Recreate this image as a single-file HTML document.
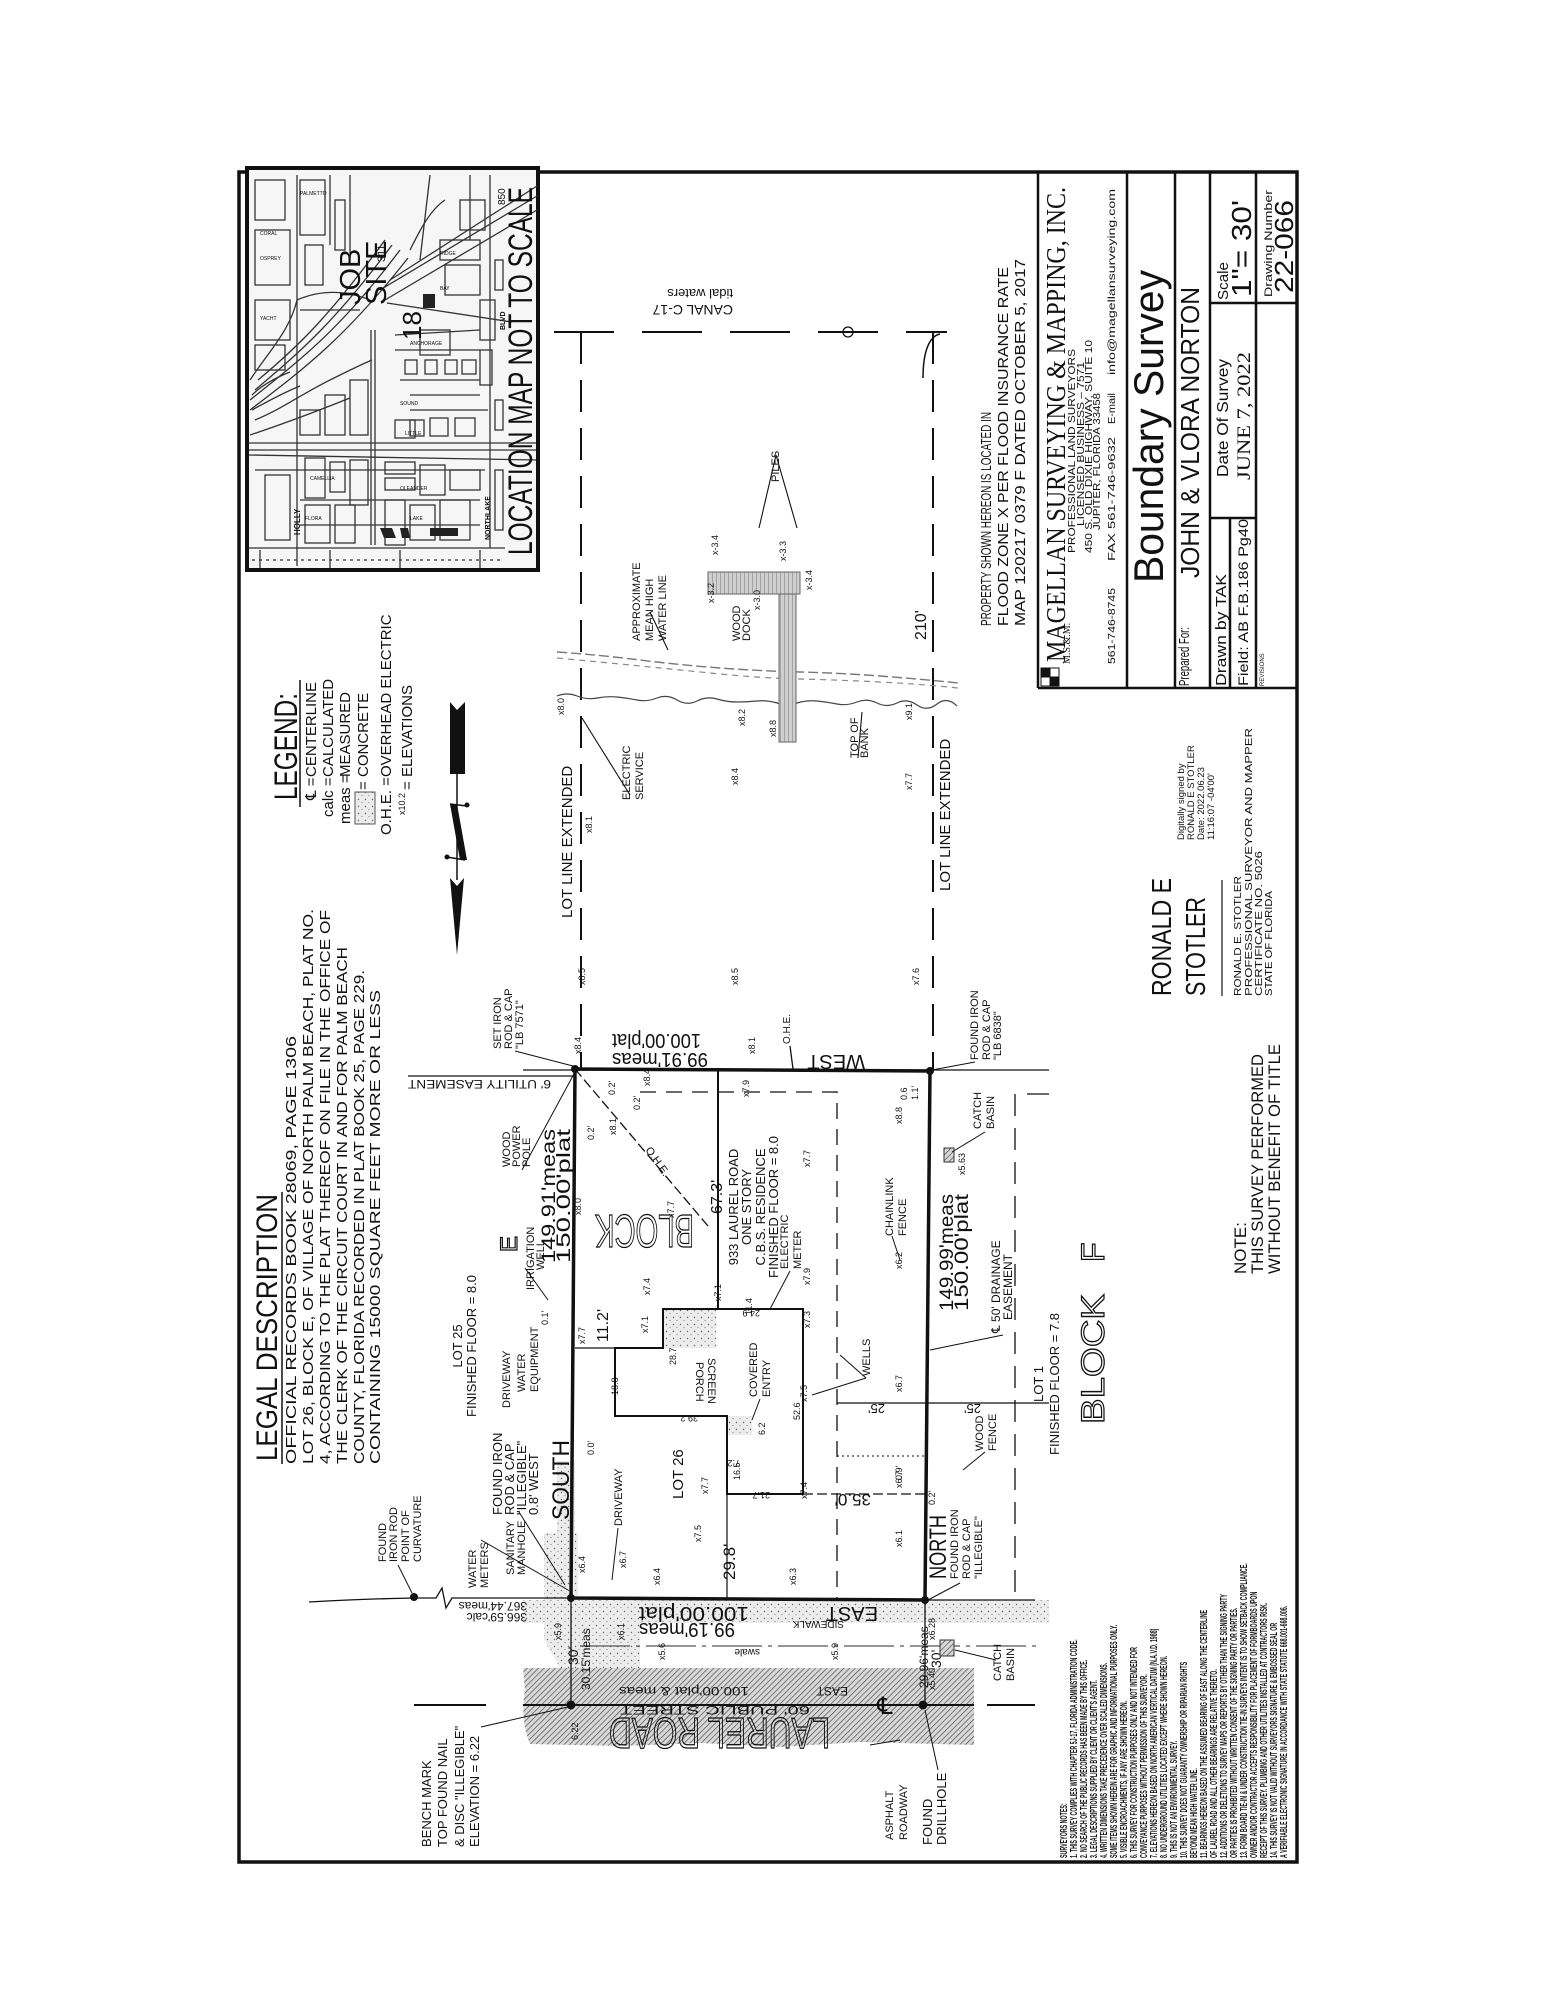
<!DOCTYPE html>
<html><head><meta charset="utf-8"><style>
html,body{margin:0;padding:0;background:#fff;}
svg{display:block;}
text{font-family:"Liberation Sans",sans-serif;fill:#111;}
.s{font-family:"Liberation Serif",serif;}
</style></head><body>
<svg width="1545" height="2000" viewBox="0 0 1545 2000" xmlns="http://www.w3.org/2000/svg">
<defs>
<pattern id="dots" width="7" height="7" patternUnits="userSpaceOnUse"><rect width="7" height="7" fill="#ececec"/><circle cx="1.5" cy="1.5" r="0.7" fill="#666"/><circle cx="5" cy="4.5" r="0.6" fill="#888"/></pattern>
<pattern id="hatch" width="4" height="4" patternUnits="userSpaceOnUse" patternTransform="rotate(45)"><rect width="4" height="4" fill="#d8d8d8"/><line x1="0" y1="0" x2="0" y2="4" stroke="#444" stroke-width="1.3"/></pattern>
<pattern id="dock" width="4" height="4" patternUnits="userSpaceOnUse"><rect width="4" height="4" fill="#cfcfcf"/><line x1="0" y1="0" x2="0" y2="4" stroke="#777" stroke-width="1"/></pattern>
</defs>

<!-- main border -->
<rect x="239" y="172" width="1058" height="1690" fill="none" stroke="#111" stroke-width="3.5"/>

<!-- LOCATION MAP -->
<g stroke="#333" fill="none" stroke-width="1.3">
<rect x="247" y="168" width="291" height="402" stroke="#111" stroke-width="4" fill="#f6f6f6"/>
<line x1="249" y1="443" x2="536" y2="443"/><line x1="249" y1="450" x2="536" y2="450"/><line x1="249" y1="455" x2="536" y2="460"/>
<line x1="297" y1="175" x2="297" y2="566"/><line x1="371" y1="330" x2="371" y2="545"/><line x1="375" y1="330" x2="375" y2="545"/>
<path d="M250 400 C300 360 340 330 400 250"/><path d="M250 410 C305 368 345 338 408 258"/>
<path d="M255 390 C300 352 335 322 392 245"/><path d="M258 380 C300 345 330 315 385 240"/>
<path d="M380 290 L537 196"/><path d="M385 300 L537 210"/><path d="M387 303 L512 322"/><path d="M390 280 L537 186"/>
<path d="M250 380 C270 350 290 330 297 300 C320 290 345 290 370 300"/>
<path d="M255 420 C280 410 300 395 330 380 C350 370 360 365 372 360"/>
<path d="M250 435 C280 425 320 410 350 398"/>
<path d="M252 395 C262 385 275 378 290 372"/><path d="M252 410 C270 400 285 392 300 386"/>
<path d="M410 250 C420 230 430 210 445 200"/>
<line x1="249" y1="548" x2="505" y2="548"/><line x1="490" y1="175" x2="490" y2="548"/>
<line x1="300" y1="310" x2="360" y2="310"/><line x1="330" y1="175" x2="330" y2="245"/><line x1="350" y1="175" x2="350" y2="260"/>
<line x1="430" y1="175" x2="420" y2="260"/><line x1="470" y1="175" x2="470" y2="240"/>
<line x1="400" y1="380" x2="480" y2="380"/><line x1="410" y1="395" x2="480" y2="395"/><line x1="410" y1="410" x2="488" y2="410"/>
<line x1="395" y1="335" x2="480" y2="330"/><line x1="395" y1="350" x2="480" y2="350"/>
<line x1="255" y1="470" x2="485" y2="470"/><line x1="300" y1="500" x2="480" y2="500"/><line x1="300" y1="525" x2="480" y2="525"/>
<rect x="305" y="458" width="20" height="40"/><rect x="330" y="462" width="15" height="30"/><rect x="350" y="460" width="18" height="45"/>
<rect x="385" y="462" width="30" height="12"/><rect x="385" y="478" width="30" height="12"/><rect x="420" y="465" width="25" height="30"/>
<rect x="450" y="470" width="30" height="20"/><rect x="305" y="505" width="25" height="38"/><rect x="335" y="505" width="20" height="38"/>
<rect x="385" y="500" width="20" height="45"/><rect x="410" y="505" width="25" height="35"/><rect x="440" y="500" width="30" height="40"/>
<rect x="255" y="180" width="30" height="40"/><rect x="300" y="180" width="25" height="55"/><rect x="335" y="200" width="10" height="50"/>
<rect x="440" y="240" width="40" height="20"/><rect x="445" y="265" width="35" height="30"/><rect x="420" y="330" width="30" height="25"/>
<rect x="300" y="410" width="20" height="25"/><rect x="325" y="395" width="20" height="40"/><rect x="350" y="380" width="18" height="55"/>
<rect x="255" y="300" width="35" height="40"/><rect x="255" y="345" width="30" height="25"/><rect x="395" y="420" width="20" height="18"/>
<rect x="480" y="300" width="15" height="40"/><rect x="480" y="350" width="12" height="35"/><rect x="460" y="200" width="25" height="30"/>
<rect x="255" y="230" width="35" height="55"/><rect x="305" y="245" width="18" height="40"/><rect x="265" y="475" width="25" height="65"/>
<rect x="405" y="360" width="12" height="14"/><rect x="425" y="360" width="12" height="14"/><rect x="445" y="360" width="12" height="14"/><rect x="462" y="360" width="14" height="14"/>
<rect x="410" y="420" width="14" height="16"/><rect x="430" y="418" width="18" height="18"/><rect x="455" y="418" width="20" height="18"/>
<rect x="495" y="260" width="8" height="30"/><rect x="495" y="400" width="8" height="30"/><rect x="495" y="470" width="8" height="60"/>
<line x1="260" y1="550" x2="260" y2="568"/><line x1="330" y1="550" x2="330" y2="568"/><line x1="400" y1="550" x2="400" y2="568"/><line x1="480" y1="550" x2="480" y2="568"/>
<line x1="252" y1="560" x2="500" y2="560" stroke-dasharray="3,4"/>
</g>
<g font-size="5" fill="#555">
<text x="300" y="195">PALMETTO</text><text x="260" y="235">CORAL</text><text x="310" y="480">CAMELLIA</text><text x="400" y="490">OLEANDER</text><text x="410" y="345">ANCHORAGE</text><text x="260" y="320">YACHT</text><text x="440" y="255">RIDGE</text><text x="400" y="405">SOUND</text>
<text x="305" y="520">FLORA</text><text x="410" y="520">LAKE</text><text x="260" y="260">OSPREY</text><text x="440" y="290">BAY</text><text x="405" y="435">LITTLE</text>
</g>
<rect x="423" y="294" width="12" height="14" fill="#222"/>
<text transform="translate(300,535) rotate(-90)" font-size="8" font-weight="bold">HOLLY</text>
<text transform="translate(490,540) rotate(-90)" font-size="7" font-weight="bold">NORTHLAKE</text>
<text transform="translate(505,330) rotate(-90)" font-size="7" font-weight="bold">BLVD</text>
<text transform="translate(385,262) rotate(-90)" font-size="11">311</text>
<text transform="translate(505,205) rotate(-90)" font-size="10">850</text>
<text transform="translate(360,305) rotate(-90)" font-size="29">JOB</text>
<text transform="translate(386,305) rotate(-90)" font-size="29">SITE</text>
<text transform="translate(421,340) rotate(-90)" font-size="26">18</text>
<text transform="translate(532,555) rotate(-90)" font-size="34" textLength="368" lengthAdjust="spacingAndGlyphs">LOCATION MAP NOT TO SCALE</text>
<g fill="#222"><polygon points="380,528 392,528 396,538 384,538"/><polygon points="400,528 408,528 410,538 402,538"/><polygon points="430,528 458,528 458,536 430,536"/></g>

<!-- TITLE BLOCK -->
<g stroke="#111" stroke-width="2.5" fill="none">
<line x1="1038" y1="172" x2="1038" y2="688"/><line x1="1038" y1="688" x2="1297" y2="688"/>
<line x1="1127" y1="172" x2="1127" y2="688"/><line x1="1175" y1="172" x2="1175" y2="688"/>
<line x1="1210" y1="172" x2="1210" y2="688"/><line x1="1256" y1="172" x2="1256" y2="688"/>
<line x1="1210" y1="303" x2="1297" y2="303"/><line x1="1210" y1="518" x2="1256" y2="518"/>
<line x1="1230" y1="518" x2="1230" y2="688"/>
</g>
<text class="s" transform="translate(1065,662) rotate(-90)" font-size="27" textLength="475" lengthAdjust="spacingAndGlyphs">MAGELLAN  SURVEYING  &amp;  MAPPING,  INC.</text>
<text transform="translate(1075,553) rotate(-90)" font-size="10" textLength="204" lengthAdjust="spacingAndGlyphs">PROFESSIONAL LAND SURVEYORS</text>
<text transform="translate(1084,526) rotate(-90)" font-size="10" textLength="164" lengthAdjust="spacingAndGlyphs">LICENSED BUSINESS – 7571</text>
<text transform="translate(1092,553) rotate(-90)" font-size="10" textLength="213" lengthAdjust="spacingAndGlyphs">450 S. OLD DIXIE HIGHWAY, SUITE 10</text>
<text transform="translate(1100,530) rotate(-90)" font-size="10" textLength="137" lengthAdjust="spacingAndGlyphs">JUPITER, FLORIDA 33458</text>
<text transform="translate(1115,664) rotate(-90)" font-size="10" textLength="76" lengthAdjust="spacingAndGlyphs">561-746-8745</text>
<text transform="translate(1115,561) rotate(-90)" font-size="10" textLength="124" lengthAdjust="spacingAndGlyphs">FAX 561-746-9632</text>
<text transform="translate(1115,424) rotate(-90)" font-size="10" textLength="31" lengthAdjust="spacingAndGlyphs">E-mail</text>
<text transform="translate(1115,375) rotate(-90)" font-size="10" textLength="186" lengthAdjust="spacingAndGlyphs">info@magellansurveying.com</text>
<g stroke="#111" stroke-width="1"><rect x="1041" y="668" width="9" height="9" fill="#111"/><rect x="1050" y="668" width="9" height="9" fill="#fff"/><rect x="1041" y="677" width="9" height="9" fill="#fff"/><rect x="1050" y="677" width="9" height="9" fill="#111"/></g>
<text class="s" transform="translate(1070,664) rotate(-90)" font-size="10">M.S.&amp;.M.</text>
<text transform="translate(1163,583) rotate(-90)" font-size="42" textLength="313" lengthAdjust="spacingAndGlyphs">Boundary  Survey</text>
<text transform="translate(1189,686) rotate(-90)" font-size="15" textLength="59" lengthAdjust="spacingAndGlyphs">Prepared For:</text>
<text transform="translate(1199,578) rotate(-90)" font-size="26" textLength="291" lengthAdjust="spacingAndGlyphs">JOHN &amp; VLORA NORTON</text>
<text transform="translate(1226,686) rotate(-90)" font-size="15" textLength="112" lengthAdjust="spacingAndGlyphs">Drawn by TAK</text>
<text transform="translate(1248,686) rotate(-90)" font-size="14" textLength="167" lengthAdjust="spacingAndGlyphs">Field: AB F.B.186 Pg40</text>
<text transform="translate(1264,686) rotate(-90)" font-size="6">REVISIONS</text>
<text transform="translate(1228,477) rotate(-90)" font-size="16" textLength="118" lengthAdjust="spacingAndGlyphs">Date Of Survey</text>
<text class="s" transform="translate(1250,480) rotate(-90)" font-size="19" textLength="128" lengthAdjust="spacingAndGlyphs">JUNE 7, 2022</text>
<text transform="translate(1228,300) rotate(-90)" font-size="15" textLength="38" lengthAdjust="spacingAndGlyphs">Scale</text>
<text transform="translate(1251,297) rotate(-90)" font-size="28" textLength="97" lengthAdjust="spacingAndGlyphs">1"= 30'</text>
<text transform="translate(1272,297) rotate(-90)" font-size="11" textLength="107" lengthAdjust="spacingAndGlyphs">Drawing Number</text>
<text transform="translate(1293,293) rotate(-90)" font-size="26" textLength="93" lengthAdjust="spacingAndGlyphs">22-066</text>

<!-- flood note -->
<text transform="translate(991,626) rotate(-90)" font-size="15" textLength="214" lengthAdjust="spacingAndGlyphs">PROPERTY SHOWN HEREON IS LOCATED IN</text>
<text transform="translate(1008,626) rotate(-90)" font-size="15" textLength="359" lengthAdjust="spacingAndGlyphs">FLOOD ZONE X PER FLOOD INSURANCE RATE</text>
<text transform="translate(1025,626) rotate(-90)" font-size="15" textLength="367" lengthAdjust="spacingAndGlyphs">MAP 120217 0379 F DATED OCTOBER 5, 2017</text>

<!-- signature -->
<text transform="translate(1171,996) rotate(-90)" font-size="28" textLength="118" lengthAdjust="spacingAndGlyphs">RONALD E</text>
<text transform="translate(1205,996) rotate(-90)" font-size="28" textLength="99" lengthAdjust="spacingAndGlyphs">STOTLER</text>
<text transform="translate(1184,840) rotate(-90)" font-size="9.5">Digitally signed by</text>
<text transform="translate(1194,840) rotate(-90)" font-size="9.5">RONALD E STOTLER</text>
<text transform="translate(1204,840) rotate(-90)" font-size="9.5">Date: 2022.06.23</text>
<text transform="translate(1214,840) rotate(-90)" font-size="9.5">11:16:07 -04'00'</text>
<line x1="1222" y1="996" x2="1222" y2="880" stroke="#111" stroke-width="1.2"/>
<text transform="translate(1241,996) rotate(-90)" font-size="10" textLength="120" lengthAdjust="spacingAndGlyphs">RONALD E. STOTLER</text>
<text transform="translate(1252,996) rotate(-90)" font-size="10" textLength="268" lengthAdjust="spacingAndGlyphs">PROFESSIONAL SURVEYOR AND MAPPER</text>
<text transform="translate(1262,996) rotate(-90)" font-size="10" textLength="145" lengthAdjust="spacingAndGlyphs">CERTIFICATE NO. 5026</text>
<text transform="translate(1272,996) rotate(-90)" font-size="10" textLength="105" lengthAdjust="spacingAndGlyphs">STATE OF FLORIDA</text>

<!-- NOTE -->
<text transform="translate(1246,1274) rotate(-90)" font-size="17">NOTE:</text>
<text transform="translate(1263,1274) rotate(-90)" font-size="17" textLength="220" lengthAdjust="spacingAndGlyphs">THIS SURVEY PERFORMED</text>
<text transform="translate(1280,1274) rotate(-90)" font-size="17" textLength="230" lengthAdjust="spacingAndGlyphs">WITHOUT BENEFIT OF TITLE</text>

<!-- SURVEYORS NOTES -->
<g transform="translate(1058,1858) rotate(-90) scale(0.53,1)" font-size="10" font-weight="bold">
<text x="0" y="9">SURVEYORS NOTES:</text>
<text x="0" y="19">1.  THIS SURVEY COMPLIES WITH CHAPTER 5J-17, FLORIDA ADMINISTRATION CODE.</text>
<text x="0" y="29">2.  NO SEARCH OF THE PUBLIC RECORDS HAS BEEN MADE BY THIS OFFICE.</text>
<text x="0" y="39">3.  LEGAL DESCRIPTIONS SUPPLIED BY CLIENT OR CLIENT'S AGENT.</text>
<text x="0" y="49">4.  WRITTEN DIMENSIONS TAKE PRECEDENCE OVER SCALED DIMENSIONS.</text>
<text x="0" y="59">      SOME ITEMS SHOWN HEREIN ARE FOR GRAPHIC AND INFORMATIONAL PURPOSES ONLY.</text>
<text x="0" y="69">5.  VISIBLE ENCROACHMENTS, IF ANY ARE SHOWN HEREON.</text>
<text x="0" y="79">6.  THIS SURVEY FOR CONSTRUCTION PURPOSES ONLY AND NOT INTENDED FOR</text>
<text x="0" y="89">      CONVEYANCE PURPOSES WITHOUT PERMISSION OF THIS SURVEYOR.</text>
<text x="0" y="99">7.  ELEVATIONS HEREON BASED ON NORTH AMERICAN VERTICAL DATUM (N.A.V.D. 1988)</text>
<text x="0" y="109">8.  NO UNDERGROUND UTILITIES LOCATED EXCEPT WHERE SHOWN HEREON.</text>
<text x="0" y="119">9.  THIS IS NOT AN ENVIRONMENTAL SURVEY.</text>
<text x="0" y="129">10. THIS SURVEY DOES NOT GUARANTY OWNERSHIP OR RIPARIAN RIGHTS</text>
<text x="0" y="139">      BEYOND MEAN HIGH WATER LINE.</text>
<text x="0" y="149">11. BEARINGS HEREON BASED ON THE ASSUMED BEARING OF EAST ALONG THE CENTERLINE</text>
<text x="0" y="159">      OF LAUREL ROAD AND ALL OTHER BEARINGS ARE RELATIVE THERETO.</text>
<text x="0" y="169">12. ADDITIONS OR DELETIONS TO SURVEY MAPS OR REPORTS BY OTHER THAN THE SIGNING PARTY</text>
<text x="0" y="179">      OR PARTIES IS PROHIBITED WITHOUT WRITTEN CONSENT OF THE SIGNING PARTY OR PARTIES.</text>
<text x="0" y="189">13. FORM BOARD TIE-IN &amp; UNDER CONSTRUCTION TIE-IN SURVEYS INTENT IS TO SHOW SETBACK COMPLIANCE.</text>
<text x="0" y="199">      OWNER AND/OR CONTRACTOR ACCEPTS RESPONSIBILITY FOR PLACEMENT OF FORMBOARDS UPON</text>
<text x="0" y="209">      RECEIPT OF THIS SURVEY.  PLUMBING AND OTHER UTILITIES INSTALLED AT CONTRACTORS RISK.</text>
<text x="0" y="219">14. THIS SURVEY IS NOT VALID WITHOUT SURVEYORS SIGNATURE &amp; EMBOSSED SEAL OR</text>
<text x="0" y="229">      A VERIFIABLE ELECTRONIC SIGNATURE IN ACCORDANCE WITH STATE STATUTE 668.001-668.006.</text>
</g>

<!-- LEGAL DESCRIPTION -->
<text transform="translate(277,1461) rotate(-90)" font-size="30" textLength="267" lengthAdjust="spacingAndGlyphs">LEGAL DESCRIPTION</text>
<line x1="282" y1="1464" x2="282" y2="1192" stroke="#111" stroke-width="1.5"/>
<g font-size="15">
<text transform="translate(296,1464) rotate(-90)" textLength="428" lengthAdjust="spacingAndGlyphs">OFFICIAL RECORDS BOOK 28069, PAGE 1306</text>
<text transform="translate(313,1464) rotate(-90)" textLength="555" lengthAdjust="spacingAndGlyphs">LOT 26, BLOCK E, OF VILLAGE OF NORTH PALM BEACH, PLAT NO.</text>
<text transform="translate(330,1464) rotate(-90)" textLength="554" lengthAdjust="spacingAndGlyphs">4, ACCORDING TO THE PLAT THEREOF ON FILE IN THE OFFICE OF</text>
<text transform="translate(347,1464) rotate(-90)" textLength="517" lengthAdjust="spacingAndGlyphs">THE CLERK OF THE CIRCUIT COURT IN AND FOR PALM BEACH</text>
<text transform="translate(364,1464) rotate(-90)" textLength="494" lengthAdjust="spacingAndGlyphs">COUNTY, FLORIDA RECORDED IN PLAT BOOK 25, PAGE 229.</text>
<text transform="translate(380,1464) rotate(-90)" textLength="474" lengthAdjust="spacingAndGlyphs">CONTAINING 15000 SQUARE FEET MORE OR LESS</text>
</g>

<!-- LEGEND -->
<text transform="translate(297,800) rotate(-90)" font-size="32" textLength="107" lengthAdjust="spacingAndGlyphs">LEGEND:</text>
<line x1="300" y1="807" x2="300" y2="680" stroke="#111" stroke-width="1.5"/>
<g font-size="15">
<text transform="translate(316,800) rotate(-90)">℄ =</text><text transform="translate(316,777) rotate(-90)">CENTERLINE</text>
<text transform="translate(333,817) rotate(-90)">calc =</text><text transform="translate(333,777) rotate(-90)">CALCULATED</text>
<text transform="translate(350,824) rotate(-90)">meas =</text><text transform="translate(350,777) rotate(-90)">MEASURED</text>
<text transform="translate(368,790) rotate(-90)">=</text><text transform="translate(368,777) rotate(-90)">CONCRETE</text>
<text transform="translate(391,835) rotate(-90)">O.H.E. =</text><text transform="translate(391,777) rotate(-90)">OVERHEAD ELECTRIC</text>
<text transform="translate(412,790) rotate(-90)">=</text><text transform="translate(412,777) rotate(-90)">ELEVATIONS</text>
</g>
<rect x="355" y="792" width="20" height="32" fill="url(#dots)" stroke="#555" stroke-width="1"/>
<text transform="translate(405,815) rotate(-90)" font-size="9">x10.2</text>

<!-- NORTH ARROW -->
<g fill="#111">
<polygon points="450,702 457,710 465,702 465,774 450,774"/>
<line x1="457" y1="774" x2="457" y2="880" stroke="#111" stroke-width="1.5"/>
<polygon points="450,804 457,804 467,860 460,860"/>
<line x1="450" y1="804" x2="467" y2="806" stroke="#111" stroke-width="1.5"/><circle cx="467" cy="805" r="2.5"/>
<line x1="447" y1="857" x2="465" y2="860" stroke="#111" stroke-width="1.5"/><circle cx="447" cy="857" r="2.5"/>
<polygon points="450,878 457,886 464,878 457,955"/>
</g>

<!-- CANAL / LOT LINES EXTENDED -->
<g stroke="#111" stroke-width="2" fill="none">
<line x1="554" y1="332" x2="947" y2="332" stroke-dasharray="60,28"/>
<line x1="581" y1="332" x2="581" y2="1069" stroke-dasharray="32,16"/>
<line x1="933" y1="332" x2="933" y2="1071" stroke-dasharray="32,16"/>
<path d="M923 378 C923 350 930 336 940 334" stroke-width="1.5"/>
<circle cx="848" cy="332" r="5" stroke-width="1.3"/>
</g>
<text transform="translate(733,305) rotate(180)" font-size="14">CANAL C-17</text>
<text transform="translate(733,289) rotate(180)" font-size="13">tidal waters</text>
<!-- water lines -->
<path d="M557 652 Q600 655 640 660 T720 668 T800 672 T880 676 T958 683" fill="none" stroke="#777" stroke-width="1.4" stroke-dasharray="10,4"/>
<path d="M557 658 Q600 662 640 666 T720 674 T800 679 T880 682 T958 688" fill="none" stroke="#888" stroke-width="1.2" stroke-dasharray="6,5"/>
<path d="M557 696 q10 -4 20 0 t20 2 t20 -1 t20 3 t20 -2 t20 2 t20 1 t20 -2 t20 3 t20 -1 t20 2 t20 0 t20 -2 t20 3 t20 -2 t20 1 t20 0 t20 2 t20 -1 t20 2" fill="none" stroke="#444" stroke-width="1.2"/>
<!-- dock -->
<rect x="708" y="572" width="92" height="22" fill="url(#dock)" stroke="#666" stroke-width="1"/>
<rect x="779" y="594" width="17" height="148" fill="url(#dock)" stroke="#666" stroke-width="1"/>
<g stroke="#111" stroke-width="1.1" fill="none">
<line x1="776" y1="455" x2="759" y2="528"/><line x1="776" y1="455" x2="797" y2="528"/>
<line x1="650" y1="612" x2="668" y2="650"/>
<line x1="630" y1="795" x2="582" y2="718"/>
<line x1="858" y1="758" x2="862" y2="712"/>
</g>
<text transform="translate(779,482) rotate(-90)" font-size="11">PILES</text>
<g font-size="11">
<text transform="translate(640,641) rotate(-90)">APPROXIMATE</text>
<text transform="translate(653,641) rotate(-90)">MEAN HIGH</text>
<text transform="translate(666,641) rotate(-90)">WATER LINE</text>
<text transform="translate(740,641) rotate(-90)">WOOD</text>
<text transform="translate(750,641) rotate(-90)">DOCK</text>
<text transform="translate(630,800) rotate(-90)">ELECTRIC</text>
<text transform="translate(643,800) rotate(-90)">SERVICE</text>
<text transform="translate(858,758) rotate(-90)">TOP OF</text>
<text transform="translate(868,758) rotate(-90)">BANK</text>
</g>
<text transform="translate(572,918) rotate(-90)" font-size="15">LOT LINE EXTENDED</text>
<text transform="translate(950,891) rotate(-90)" font-size="15">LOT LINE EXTENDED</text>
<text transform="translate(926,640) rotate(-90)" font-size="16">210'</text>

<!-- stipple / concrete -->
<rect x="523" y="1600" width="526" height="23" fill="url(#dots)"/>
<polygon points="544,1533 578,1533 578,1600 640,1600 640,1668 560,1668 544,1640" fill="url(#dots)"/>
<rect x="557" y="1461" width="18" height="139" fill="url(#dots)"/>
<rect x="663" y="1309" width="53" height="39" fill="url(#dots)"/>
<rect x="727" y="1416" width="25" height="19" fill="url(#dots)"/>
<!-- road -->
<path d="M523 1668 L974 1668 L974 1745 L860 1742 L780 1747 L700 1743 L620 1746 L530 1744 Q520 1720 525 1690 Z" fill="url(#hatch)"/>
<g stroke="#111" stroke-width="2" fill="none">
<line x1="414" y1="1705" x2="486" y2="1705"/><line x1="523" y1="1705" x2="974" y2="1705"/><line x1="987" y1="1705" x2="1035" y2="1705"/>
</g>
<circle cx="571" cy="1705" r="4.5" fill="#111"/><circle cx="923" cy="1705" r="4.5" fill="#111"/>
<text x="885" y="1714" font-size="24" text-anchor="middle">℄</text>
<text transform="translate(830,1718) rotate(180)" font-size="44" stroke="#111" stroke-width="1.3" textLength="221" lengthAdjust="spacingAndGlyphs" style="fill:none">LAUREL ROAD</text>
<text transform="translate(810,1706) rotate(180)" font-size="12" textLength="190" lengthAdjust="spacingAndGlyphs">60' PUBLIC STREET</text>
<text transform="translate(749,1687) rotate(180)" font-size="12" textLength="130" lengthAdjust="spacingAndGlyphs">100.00'plat &amp; meas</text>
<text transform="translate(848,1687) rotate(180)" font-size="12">EAST</text>

<!-- utility lines -->
<g stroke="#111" stroke-width="1.3" fill="none">
<line x1="523" y1="1070" x2="1049" y2="1070"/>
<line x1="408" y1="1076" x2="575" y2="1076"/>
<path d="M309 1602 Q360 1599 414 1598 L436 1598 L442 1588 L446 1608 L452 1598 L571 1598"/>
<line x1="925" y1="1600" x2="1035" y2="1600"/>
<line x1="571" y1="1598" x2="571" y2="1705"/><line x1="925" y1="1600" x2="925" y2="1705"/>
<line x1="580" y1="1646" x2="1040" y2="1646" stroke="#555" stroke-dasharray="50,6,4,6"/>
<polyline points="640,1092 837,1092 837,1600" stroke-dasharray="16,10"/>
<polyline points="1049,1094 1015,1094 1015,1600" stroke-dasharray="22,12"/>
<line x1="575" y1="1069" x2="708" y2="1226" stroke-dasharray="10,4"/>
<line x1="790" y1="1046" x2="793" y2="1069"/>
</g>
<text transform="translate(551,1080) rotate(180)" font-size="12" textLength="143" lengthAdjust="spacingAndGlyphs">6' UTILITY EASEMENT</text>
<text transform="translate(790,1044) rotate(-90)" font-size="10">O.H.E.</text>
<text transform="translate(645,1150) rotate(55)" font-size="11">O.H.E.</text>

<!-- PROPERTY RECT -->
<polygon points="575,1069 930,1071 925,1600 571,1598" fill="none" stroke="#111" stroke-width="3.5"/>
<g fill="#111"><circle cx="575" cy="1069" r="4"/><circle cx="930" cy="1071" r="4"/><circle cx="925" cy="1600" r="4"/><circle cx="571" cy="1598" r="4"/></g>

<!-- HOUSE -->
<g stroke="#111" stroke-width="2" fill="none">
<polyline points="718,1070 718,1309 803,1309 803,1494 727,1494 727,1416 615,1416 615,1348 663,1348 663,1309 718,1309"/>
<line x1="575" y1="1348" x2="615" y2="1348" stroke-width="1.2"/>
<line x1="727" y1="1494" x2="727" y2="1598" stroke-width="1.2"/>
<line x1="803" y1="1494" x2="925" y2="1494" stroke-width="1.2" stroke-dasharray="10,4"/>
<line x1="837" y1="1403" x2="1015" y2="1403" stroke-width="1.2"/>
<line x1="1015" y1="1403" x2="1049" y2="1403" stroke-width="1.2"/>
<line x1="837" y1="1456" x2="925" y2="1456" stroke-width="1" stroke-dasharray="2,3"/>
</g>

<!-- edge labels -->
<text transform="translate(865,1055) rotate(180)" font-size="20">WEST</text>
<text transform="translate(708,1053) rotate(180)" font-size="20" textLength="96" lengthAdjust="spacingAndGlyphs">99.91'meas</text>
<text transform="translate(701,1034) rotate(180)" font-size="20" textLength="89" lengthAdjust="spacingAndGlyphs">100.00'plat</text>
<text transform="translate(878,1607) rotate(180)" font-size="20">EAST</text>
<text transform="translate(735,1623) rotate(180)" font-size="20" textLength="96" lengthAdjust="spacingAndGlyphs">99.19'meas</text>
<text transform="translate(749,1607) rotate(180)" font-size="20" textLength="110" lengthAdjust="spacingAndGlyphs">100.00'plat</text>
<text transform="translate(844,1621) rotate(180)" font-size="10">SIDEWALK</text>
<text transform="translate(760,1649) rotate(180)" font-size="10">swale</text>
<text transform="translate(527,1602) rotate(180)" font-size="12">367.44'meas</text>
<text transform="translate(527,1613) rotate(180)" font-size="12">366.59'calc</text>
<text transform="translate(569,1520) rotate(-90)" font-size="24" textLength="80" lengthAdjust="spacingAndGlyphs">SOUTH</text>
<text transform="translate(555,1263) rotate(-90)" font-size="19" textLength="134" lengthAdjust="spacingAndGlyphs">149.91'meas</text>
<text transform="translate(570,1263) rotate(-90)" font-size="19" textLength="134" lengthAdjust="spacingAndGlyphs">150.00'plat</text>
<text transform="translate(946,1579) rotate(-90)" font-size="24" textLength="64" lengthAdjust="spacingAndGlyphs">NORTH</text>
<text transform="translate(953,1311) rotate(-90)" font-size="19" textLength="117" lengthAdjust="spacingAndGlyphs">149.99'meas</text>
<text transform="translate(968,1311) rotate(-90)" font-size="19" textLength="117" lengthAdjust="spacingAndGlyphs">150.00'plat</text>
<text transform="translate(1000,1333) rotate(-90)" font-size="12">℄ 50' DRAINAGE</text>
<text transform="translate(1012,1320) rotate(-90)" font-size="12">EASEMENT</text>
<text transform="translate(590,1690) rotate(-90)" font-size="12">30.15'meas</text>
<text transform="translate(578,1665) rotate(-90)" font-size="14">30'</text>
<text transform="translate(928,1688) rotate(-90)" font-size="12">29.96'meas</text>
<text transform="translate(941,1668) rotate(-90)" font-size="14">30'</text>

<!-- interior labels -->
<text transform="translate(683,1499) rotate(-90)" font-size="15">LOT 26</text>
<g font-size="13" text-anchor="middle">
<text transform="translate(738,1207) rotate(-90)">933 LAUREL ROAD</text>
<text transform="translate(751,1207) rotate(-90)">ONE STORY</text>
<text transform="translate(765,1207) rotate(-90)">C.B.S. RESIDENCE</text>
<text transform="translate(778,1207) rotate(-90)">FINISHED FLOOR = 8.0</text>
</g>
<text transform="translate(722,1214) rotate(-90)" font-size="16">67.3'</text>
<text transform="translate(694,1215) rotate(180)" font-size="46" style="fill:none" stroke="#111" stroke-width="1.3" textLength="99" lengthAdjust="spacingAndGlyphs">BLOCK</text>
<text transform="translate(517,1252) rotate(-90)" font-size="24" style="fill:none" stroke="#111" stroke-width="1.2">E</text>
<text transform="translate(1104,1424) rotate(-90)" font-size="32" style="fill:none" stroke="#111" stroke-width="1.2" textLength="130" lengthAdjust="spacingAndGlyphs">BLOCK</text>
<text transform="translate(1104,1262) rotate(-90)" font-size="32" style="fill:none" stroke="#111" stroke-width="1.2">F</text>
<g font-size="13" text-anchor="middle">
<text transform="translate(462,1346) rotate(-90)">LOT 25</text>
<text transform="translate(476,1346) rotate(-90)">FINISHED FLOOR = 8.0</text>
<text transform="translate(1043,1384) rotate(-90)">LOT 1</text>
<text transform="translate(1059,1384) rotate(-90)">FINISHED FLOOR = 7.8</text>
</g>
<text transform="translate(735,1580) rotate(-90)" font-size="17">29.8'</text>
<text transform="translate(871,1494) rotate(180)" font-size="17">35.0'</text>
<text transform="translate(608,1342) rotate(-90)" font-size="16">11.2'</text>
<text transform="translate(885,1404) rotate(180)" font-size="13">25'</text>
<text transform="translate(981,1404) rotate(180)" font-size="13">25'</text>
<g font-size="9">
<text transform="translate(618,1395) rotate(-90)">18.8</text>
<text transform="translate(676,1365) rotate(-90)">28.7</text>
<text transform="translate(698,1415) rotate(180)">39.2</text>
<text transform="translate(752,1315) rotate(-90)">11.4</text>
<text transform="translate(760,1310) rotate(180)">24.9</text>
<text transform="translate(800,1420) rotate(-90)">52.6</text>
<text transform="translate(765,1435) rotate(-90)">6.2</text>
<text transform="translate(740,1460) rotate(180)">7.2</text>
<text transform="translate(740,1480) rotate(-90)">16.5</text>
<text transform="translate(770,1492) rotate(180)">21.7</text>
<text transform="translate(594,1455) rotate(-90)">0.0'</text>
<text transform="translate(548,1325) rotate(-90)">0.1'</text>
<text transform="translate(594,1140) rotate(-90)">0.2'</text>
<text transform="translate(640,1110) rotate(-90)">0.2'</text>
<text transform="translate(615,1095) rotate(-90)">0.2'</text>
<text transform="translate(907,1100) rotate(-90)">0.6</text>
<text transform="translate(918,1100) rotate(-90)">1.1'</text>
<text transform="translate(902,1480) rotate(-90)">0.9'</text>
<text transform="translate(935,1505) rotate(-90)">0.2'</text>
</g>

<!-- misc labels -->
<g font-size="11">
<text transform="translate(510,1408) rotate(-90)">DRIVEWAY</text>
<text transform="translate(525,1392) rotate(-90)">WATER</text>
<text transform="translate(538,1392) rotate(-90)">EQUIPMENT</text>
<text transform="translate(534,1290) rotate(-90)">IRRIGATION</text>
<text transform="translate(544,1270) rotate(-90)">WELL</text>
<text transform="translate(510,1167) rotate(-90)">WOOD</text>
<text transform="translate(520,1167) rotate(-90)">POWER</text>
<text transform="translate(530,1167) rotate(-90)">POLE</text>
<text transform="translate(502,1515) rotate(-90)" font-size="13">FOUND IRON</text>
<text transform="translate(514,1515) rotate(-90)" font-size="13">ROD &amp; CAP</text>
<text transform="translate(526,1515) rotate(-90)" font-size="13">"ILLEGIBLE"</text>
<text transform="translate(538,1515) rotate(-90)" font-size="13">0.8' WEST</text>
<text transform="translate(514,1575) rotate(-90)">SANITARY</text>
<text transform="translate(525,1575) rotate(-90)">MANHOLE</text>
<text transform="translate(476,1588) rotate(-90)">WATER</text>
<text transform="translate(488,1588) rotate(-90)">METERS</text>
<text transform="translate(386,1562) rotate(-90)">FOUND</text>
<text transform="translate(397,1562) rotate(-90)">IRON ROD</text>
<text transform="translate(409,1562) rotate(-90)">POINT OF</text>
<text transform="translate(421,1562) rotate(-90)">CURVATURE</text>
<text transform="translate(431,1847) rotate(-90)" font-size="13">BENCH MARK</text>
<text transform="translate(447,1847) rotate(-90)" font-size="13">TOP FOUND NAIL</text>
<text transform="translate(464,1847) rotate(-90)" font-size="13">&amp; DISC "ILLEGIBLE"</text>
<text transform="translate(479,1847) rotate(-90)" font-size="13">ELEVATION = 6.22</text>
<text transform="translate(932,1845) rotate(-90)" font-size="13">FOUND</text>
<text transform="translate(946,1845) rotate(-90)" font-size="13">DRILLHOLE</text>
<text transform="translate(893,1840) rotate(-90)">ASPHALT</text>
<text transform="translate(907,1840) rotate(-90)">ROADWAY</text>
<text transform="translate(1001,1681) rotate(-90)">CATCH</text>
<text transform="translate(1014,1681) rotate(-90)">BASIN</text>
<text transform="translate(981,1129) rotate(-90)">CATCH</text>
<text transform="translate(994,1129) rotate(-90)">BASIN</text>
<text transform="translate(983,1451) rotate(-90)">WOOD</text>
<text transform="translate(996,1451) rotate(-90)">FENCE</text>
<text transform="translate(958,1579) rotate(-90)">FOUND IRON</text>
<text transform="translate(970,1579) rotate(-90)">ROD &amp; CAP</text>
<text transform="translate(982,1579) rotate(-90)">"ILLEGIBLE"</text>
<text transform="translate(893,1236) rotate(-90)">CHAINLINK</text>
<text transform="translate(906,1236) rotate(-90)">FENCE</text>
<text transform="translate(870,1376) rotate(-90)">WELLS</text>
<text transform="translate(788,1269) rotate(-90)">ELECTRIC</text>
<text transform="translate(801,1269) rotate(-90)">METER</text>
<text transform="translate(757,1397) rotate(-90)">COVERED</text>
<text transform="translate(770,1397) rotate(-90)">ENTRY</text>
<text transform="translate(708,1358) rotate(90)">SCREEN</text>
<text transform="translate(696,1362) rotate(90)">PORCH</text>
<text transform="translate(622,1526) rotate(-90)">DRIVEWAY</text>
<text transform="translate(501,1049) rotate(-90)">SET IRON</text>
<text transform="translate(512,1049) rotate(-90)">ROD &amp; CAP</text>
<text transform="translate(523,1049) rotate(-90)">"LB 7571"</text>
<text transform="translate(978,1060) rotate(-90)">FOUND IRON</text>
<text transform="translate(990,1060) rotate(-90)">ROD &amp; CAP</text>
<text transform="translate(1001,1060) rotate(-90)">"LB 6838"</text>
</g>
<rect x="944" y="1148" width="10" height="14" fill="url(#hatch)" stroke="#333"/>
<rect x="940" y="1640" width="14" height="16" fill="url(#hatch)" stroke="#333"/>
<circle cx="414" cy="1597" r="4" fill="#111"/>
<g stroke="#111" stroke-width="1" fill="none">
<line x1="522" y1="1170" x2="575" y2="1072"/>
<line x1="525" y1="1268" x2="548" y2="1300"/>
<line x1="481" y1="1540" x2="568" y2="1590"/>
<line x1="519" y1="1512" x2="565" y2="1585"/>
<line x1="398" y1="1565" x2="412" y2="1593"/>
<line x1="481" y1="1727" x2="568" y2="1707"/>
<line x1="900" y1="1740" x2="870" y2="1745"/>
<line x1="938" y1="1770" x2="925" y2="1710"/>
<line x1="960" y1="1583" x2="928" y2="1600"/>
<line x1="985" y1="1132" x2="952" y2="1152"/>
<line x1="996" y1="1660" x2="955" y2="1650"/>
<line x1="985" y1="1452" x2="963" y2="1470"/>
<line x1="892" y1="1236" x2="900" y2="1260"/>
<line x1="866" y1="1378" x2="812" y2="1395"/><line x1="866" y1="1378" x2="840" y2="1355"/>
<line x1="790" y1="1271" x2="770" y2="1309"/>
<line x1="760" y1="1399" x2="752" y2="1420"/>
<line x1="618" y1="1528" x2="612" y2="1580"/>
<line x1="515" y1="1051" x2="573" y2="1066"/>
<line x1="975" y1="1062" x2="932" y2="1070"/>
<line x1="1003" y1="1335" x2="930" y2="1350"/>
</g>

<!-- elevations -->
<g font-size="9" fill="#222">
<text transform="translate(564,715) rotate(-90)">x8.0</text>
<text transform="translate(745,726) rotate(-90)">x8.2</text>
<text transform="translate(776,737) rotate(-90)">x8.8</text>
<text transform="translate(912,720) rotate(-90)">x9.1</text>
<text transform="translate(738,785) rotate(-90)">x8.4</text>
<text transform="translate(592,833) rotate(-90)">x8.1</text>
<text transform="translate(912,790) rotate(-90)">x7.7</text>
<text transform="translate(585,985) rotate(-90)">x8.5</text>
<text transform="translate(738,985) rotate(-90)">x8.5</text>
<text transform="translate(919,985) rotate(-90)">x7.6</text>
<text transform="translate(714,603) rotate(-90)">x-3.2</text>
<text transform="translate(718,555) rotate(-90)">x-3.4</text>
<text transform="translate(786,561) rotate(-90)">x-3.3</text>
<text transform="translate(760,610) rotate(-90)">x-3.0</text>
<text transform="translate(812,590) rotate(-90)">x-3.4</text>
<text transform="translate(581,1054) rotate(-90)">x8.4</text>
<text transform="translate(755,1054) rotate(-90)">x8.1</text>
<text transform="translate(650,1086) rotate(-90)">x8.4</text>
<text transform="translate(616,1135) rotate(-90)">x8.1</text>
<text transform="translate(749,1097) rotate(-90)">x7.9</text>
<text transform="translate(581,1215) rotate(-90)">x8.0</text>
<text transform="translate(674,1218) rotate(-90)">x7.7</text>
<text transform="translate(810,1167) rotate(-90)">x7.7</text>
<text transform="translate(902,1124) rotate(-90)">x8.8</text>
<text transform="translate(650,1295) rotate(-90)">x7.4</text>
<text transform="translate(721,1301) rotate(-90)">x7.1</text>
<text transform="translate(810,1285) rotate(-90)">x7.9</text>
<text transform="translate(902,1269) rotate(-90)">x6.2</text>
<text transform="translate(810,1328) rotate(-90)">x7.3</text>
<text transform="translate(807,1402) rotate(-90)">x7.5</text>
<text transform="translate(902,1392) rotate(-90)">x6.7</text>
<text transform="translate(585,1344) rotate(-90)">x7.7</text>
<text transform="translate(648,1333) rotate(-90)">x7.1</text>
<text transform="translate(708,1494) rotate(-90)">x7.7</text>
<text transform="translate(807,1499) rotate(-90)">x7.4</text>
<text transform="translate(902,1488) rotate(-90)">x6.7</text>
<text transform="translate(701,1542) rotate(-90)">x7.5</text>
<text transform="translate(585,1573) rotate(-90)">x6.4</text>
<text transform="translate(626,1568) rotate(-90)">x6.7</text>
<text transform="translate(660,1585) rotate(-90)">x6.4</text>
<text transform="translate(796,1585) rotate(-90)">x6.3</text>
<text transform="translate(902,1547) rotate(-90)">x6.1</text>
<text transform="translate(561,1640) rotate(-90)">x5.9</text>
<text transform="translate(624,1640) rotate(-90)">x6.1</text>
<text transform="translate(665,1660) rotate(-90)">x5.6</text>
<text transform="translate(838,1660) rotate(-90)">x5.9</text>
<text transform="translate(935,1640) rotate(-90)">x6.28</text>
<text transform="translate(965,1175) rotate(-90)">x5.63</text>
<text transform="translate(935,1690) rotate(-90)">x5.40</text>
<text transform="translate(578,1740) rotate(-90)">6.22</text>
</g>
</svg>
</body></html>
